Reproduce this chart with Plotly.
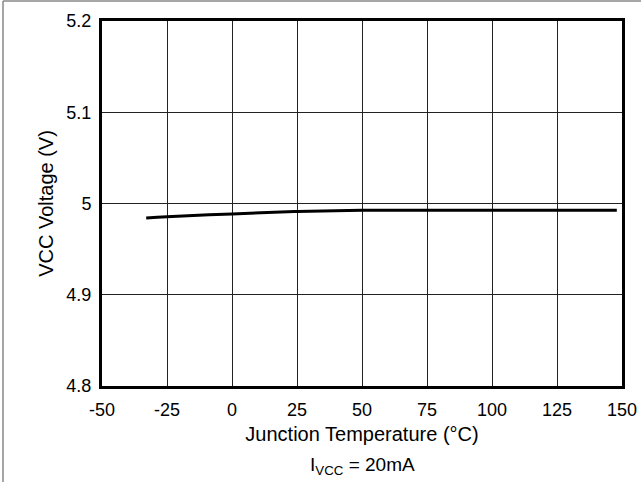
import plotly.graph_objects as go

# Data
temperature = [-33, -25, 0, 25, 50, 75, 100, 125, 148]
vcc_voltage = [4.9842, 4.9856, 4.9886, 4.9912, 4.9925, 4.9927, 4.9927, 4.9927, 4.9927]

x_ticks = [-50, -25, 0, 25, 50, 75, 100, 125, 150]
x_tick_text = ["-50", "-25", "0", "25", "50", "75", "100", "125", "150"]
y_ticks = [4.8, 4.9, 5.0, 5.1, 5.2]
y_tick_text = ["4.8", "4.9", "5", "5.1", "5.2"]

W, H = 641, 482
L, R, T, B = 102, 19, 21, 96
pw, ph = W - L - R, H - T - B

font = "Liberation Sans, Arial, sans-serif"

fig = go.Figure()
fig.add_trace(go.Scatter(x=temperature, y=vcc_voltage, mode="lines",
                         line=dict(color="black", width=3, shape="spline"),
                         showlegend=False, hoverinfo="skip"))

fig.update_layout(
    width=W, height=H,
    margin=dict(l=L, r=R, t=T, b=B, pad=0, autoexpand=False),
    paper_bgcolor="white", plot_bgcolor="white",
    font=dict(family=font, size=18, color="black"),
    xaxis=dict(range=[-50, 150], tickvals=x_ticks, ticktext=x_tick_text,
               showgrid=True, gridcolor="#222", gridwidth=1,
               showline=True, linecolor="black", linewidth=3, mirror=True,
               ticks="", ticklabelstandoff=5, zeroline=False, automargin=False,
               tickfont=dict(size=18),
               title=dict(text="Junction Temperature (\u00b0C)", standoff=9,
                          font=dict(size=20))),
    yaxis=dict(range=[4.8, 5.2], tickvals=y_ticks, ticktext=y_tick_text,
               showgrid=True, gridcolor="#222", gridwidth=1,
               showline=True, linecolor="black", linewidth=3, mirror=True,
               ticks="", ticklabelstandoff=4, zeroline=False, automargin=False,
               tickfont=dict(size=18),
               title=dict(text="VCC Voltage (V)", standoff=8,
                          font=dict(size=20))),
)

# Outer frame (gray left and top edges)
frame_x = (3 - L) / pw
frame_top = 1 + (T - 1) / ph
fig.add_shape(type="line", xref="paper", yref="paper",
              x0=frame_x, x1=frame_x, y0=frame_top, y1=-B / ph - 0.01,
              line=dict(color="#888", width=1.5))
fig.add_shape(type="line", xref="paper", yref="paper",
              x0=frame_x, x1=(W - L) / pw + 0.01, y0=frame_top, y1=frame_top,
              line=dict(color="#888", width=1.5))

fig.add_annotation(xref="paper", yref="paper", x=0.5, y=-(466 - (T + ph)) / ph,
                   text="I<sub>VCC</sub> = 20mA", showarrow=False,
                   font=dict(size=19), xanchor="center", yanchor="middle")

fig.write_html("out.html")
